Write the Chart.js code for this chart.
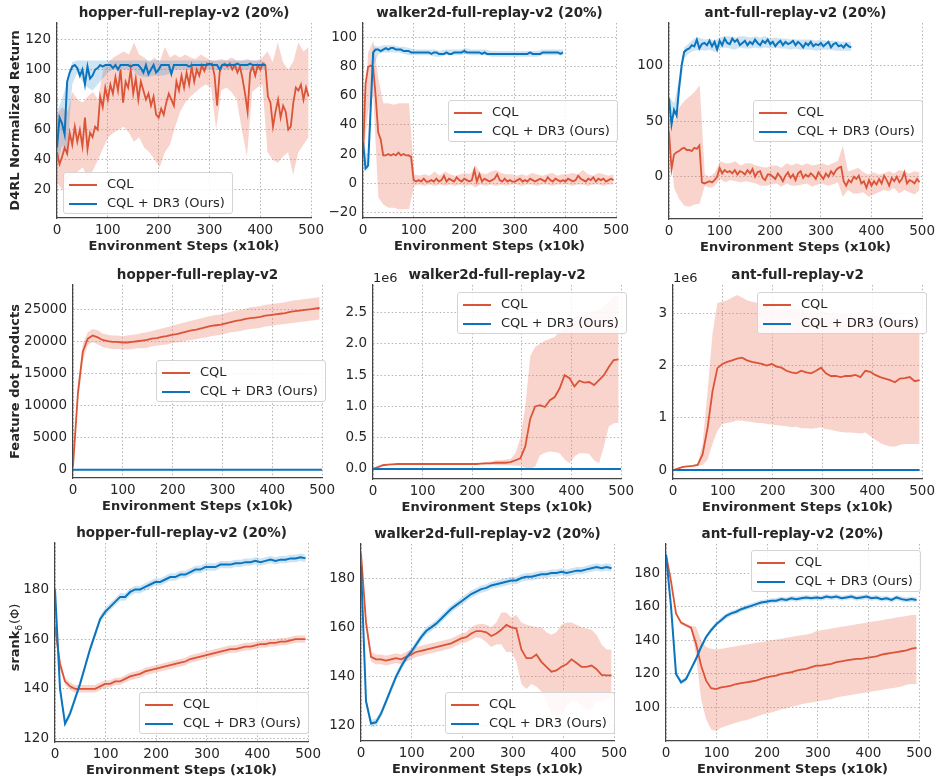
<!DOCTYPE html>
<html>
<head>
<meta charset="utf-8">
<script src="https://cdn.jsdelivr.net/npm/chart.js@4.4.1/dist/chart.umd.min.js"></script>
<style>
  body { margin: 0; background: #fff; width: 937px; height: 776px; overflow: hidden; position: relative; font-family: "DejaVu Sans", sans-serif; }
  canvas { position: absolute; }
  .lg { position: absolute; border: 1px solid #d4d4d4; border-radius: 3px; background: rgba(255,255,255,0.85); padding: 1px 7px 1px 5px; font-size: 13px; color: #262626; }
  .lg div { height: 19px; line-height: 19px; white-space: nowrap; }
  .lg span { display: inline-block; width: 28px; height: 2px; vertical-align: middle; margin-right: 10px; }
</style>
</head>
<body>
<script>
const RED = "#dc5437", BLUE = "#0b74be";
const RED_BAND = "rgba(232,122,98,0.32)", BLUE_BAND = "rgba(30,130,200,0.22)";
const FONT = "'DejaVu Sans', sans-serif";
const TXT = "#262626", GRID = "#b4b4b4", AXIS = "#444";

const seriesNames = ["CQL", "CQL + DR3 (Ours)"];
const xLabel = "Environment Steps (x10k)";
const xTicks = [0, 100, 200, 300, 400, 500];

// ---- row 1: D4RL normalized return (means every 5 steps, bands every ~10)
const p1Cql = [
  45, 37, 42, 48, 44, 58, 50, 62, 52, 60,
  49, 68, 47, 58, 55, 62, 60, 82, 75, 88,
  80, 90, 84, 95, 86, 100, 78, 92, 88, 100,
  84, 94, 80, 92, 86, 80, 84, 76, 82, 70,
  68, 74, 70, 78, 84, 80, 76, 92, 86, 96,
  88, 98, 90, 102, 92, 100, 96, 103, 99, 104,
  103, 104, 96, 76, 98, 103, 104, 102, 104, 100,
  103, 98, 102, 94, 84, 72, 98, 102, 96, 103,
  100, 104, 103, 82, 78, 62, 72, 80, 68, 76,
  72, 60, 62, 78, 88, 86, 90, 80, 88, 82];
const p1CqlLo = [
  25, 20, 28, 30, 32, 35, 28, 33, 40, 48,
  55, 58, 60, 62, 58, 52, 55, 48, 45, 40,
  35, 45, 50, 62, 72, 78, 82, 85, 88, 90,
  88, 60, 86, 88, 85, 80, 60, 42, 85, 88,
  90, 45, 40, 38, 42, 45, 30, 45, 50, 55];
const p1CqlHi = [
  70, 75, 72, 85, 80, 78, 82, 85, 80, 100,
  105, 108, 110, 112, 110, 118, 110, 108, 105, 108,
  105, 115, 108, 110, 108, 110, 108, 107, 110, 108,
  106, 106, 107, 106, 108, 106, 106, 107, 106, 106,
  108, 112, 105, 118, 105, 100, 105, 118, 112, 115];
const p1Dr3 = [
  48, 68, 64, 57, 92, 98, 102, 103, 101, 96,
  100, 90, 102, 94, 96, 100, 101, 103, 102, 103,
  103, 103, 101, 103, 100, 103, 103, 103, 103, 102,
  103, 103, 103, 101, 98, 103, 97, 100, 103, 98,
  100, 103, 103, 103, 103, 97, 103, 103, 103, 103,
  103, 103, 102, 103, 103, 103, 103, 103, 103, 103,
  104, 103, 103, 103, 100, 103, 103, 103, 103, 103,
  103, 104, 103, 103, 103, 103, 104, 103, 103, 103,
  103, 103, 103];
const p1Dr3Lo = [
  35, 50, 45, 90, 98, 92, 88, 86, 90, 94,
  98, 100, 100, 100, 100, 100, 96, 95, 95, 96,
  96, 96, 97, 100, 100, 100, 100, 100, 100, 100,
  100, 100, 100, 100, 100, 100, 100, 100, 100, 100,
  100, 100];
const p1Dr3Hi = [
  72, 80, 92, 105, 106, 106, 106, 106, 106, 106,
  106, 106, 106, 106, 106, 106, 106, 106, 106, 106,
  106, 106, 106, 106, 106, 106, 106, 106, 106, 106,
  106, 106, 106, 106, 106, 106, 106, 106, 106, 106,
  106, 105];

const p2Cql = [
  20, 68, 80, 81, 80, 60, 35, 30, 19, 19,
  20, 19, 20, 19, 21, 19, 20, 19, 19, 18,
  2, 1, 2, 1, 3, 1, 1, 2, 1, 3,
  1, 2, 5, 1, 3, 2, 1, 4, 2, 1,
  3, 2, 1, 2, 9, 1, 6, 1, 3, 2,
  1, 2, 3, 6, 2, 1, 3, 1, 2, 1,
  1, 2, 3, 1, 2, 1, 3, 2, 1, 2,
  3, 2, 1, 4, 2, 1, 3, 2, 1, 2,
  1, 3, 2, 1, 2, 5, 3, 2, 1, 3,
  2, 4, 1, 3, 2, 3, 1, 2, 3, 2];
const p2CqlLo = [
  15, 50, 60, -10, -15, -17, -17, -18, -18, -18,
  -2, -1, -2, -1, -2, -1, -2, -1, -2, -1,
  -2, -1, -3, -1, -2, -1, -2, -1, -2, -1,
  -1, -2, -1, -1, -2, -1, -1, -2, -1, -1,
  -1, -2, -1, -1, -2, -1, -1, -2, -1, -1];
const p2CqlHi = [
  30, 90, 98, 72, 55, 55, 54, 55, 55, 55,
  6, 5, 6, 5, 8, 5, 8, 6, 5, 6,
  7, 6, 12, 7, 6, 8, 9, 7, 6, 6,
  5, 6, 5, 7, 6, 5, 6, 7, 5, 6,
  6, 7, 6, 9, 6, 5, 7, 6, 5, 6];
const p2Dr3 = [
  28, 10, 12, 50, 90, 92, 92, 91, 92, 93,
  92, 93, 93, 92, 92, 92, 91, 91, 91, 90,
  90, 90, 90, 90, 90, 90, 90, 89, 90, 90,
  89, 89, 89, 90, 89, 89, 90, 90, 90, 90,
  91, 90, 90, 90, 90, 90, 90, 89, 90, 89,
  89, 89, 89, 89, 89, 89, 89, 89, 89, 89,
  89, 89, 89, 89, 89, 89, 90, 89, 89, 89,
  89, 90, 90, 90, 90, 90, 90, 90, 89, 90];
const p2Dr3Lo = [
  20, 8, 80, 89, 90, 90, 90, 90, 89, 88,
  88, 88, 88, 88, 87, 87, 88, 88, 88, 88,
  89, 88, 88, 88, 88, 87, 87, 87, 87, 87,
  87, 87, 87, 87, 87, 88, 88, 88, 88, 88];
const p2Dr3Hi = [
  32, 14, 95, 94, 95, 95, 95, 94, 94, 93,
  92, 92, 92, 92, 92, 91, 92, 92, 92, 92,
  93, 92, 92, 92, 92, 91, 91, 91, 91, 91,
  91, 91, 91, 91, 91, 92, 92, 92, 92, 92];

const p3Cql = [
  40, 7, 20, 22, 23, 25, 26, 24, 24, 23,
  26, 25, 28, -5, -6, -5, -4, -5, -3, 0,
  8, 3, 6, 4, 5, 3, 6, 2, 5, 4,
  2, 6, 3, 7, 0, 4, 5, -1, -3, 2,
  2, 0, -2, 3, 0, -4, 1, 4, -1, 2,
  -3, 3, 5, -1, 2, 0, 3, 1, -2, 4,
  1, -2, 3, 0, 5, 2, 6, 8, 9, -4,
  -8, -3, -5, 0, -2, 1, -6, -4, -10, -3,
  -8, -4, -7, -2, -6, 1, -3, -8, -1, -4,
  0, -5, -2, 4, -6, -3, -4, -6, -2, -5];
const p3CqlLo = [
  35, -10, -20, -26, -27, -25, -24, -8, -10, -8,
  -2, -5, -3, -4, -5, -4, -5, -6, -8, -8,
  -7, -6, -9, -6, -8, -8, -7, -6, -9, -7,
  -6, -8, -7, -5, -18, -12, -15, -15, -14, -18,
  -16, -14, -12, -13, -10, -15, -12, -14, -16, -12];
const p3CqlHi = [
  45, 50, 62, 68, 72, 76, 82, 2, 0, 4,
  14, 12, 12, 14, 10, 12, 12, 10, 9, 8,
  10, 10, 8, 12, 10, 12, 10, 12, 10, 11,
  12, 10, 12, 14, 28, 5, 6, 8, 4, 2,
  4, 2, 3, 5, 3, 6, 5, 3, 5, 4];
const p3Dr3 = [
  70, 47, 60, 55, 80, 100, 112, 114, 115, 118,
  117, 123, 115, 119, 120, 118, 122, 117, 121, 114,
  122, 118, 124, 120, 119, 124, 121, 123, 118, 120,
  122, 118, 121, 119, 123, 120, 118, 122, 120, 123,
  119, 121, 117, 120, 122, 118, 121, 119, 120, 122,
  118, 121, 119, 116, 120, 118, 121, 117, 119, 118,
  120, 117, 119, 121, 116, 119, 120, 117, 118, 116,
  119, 117, 116];
const p3Dr3Lo = [
  62, 52, 72, 106, 111, 113, 114, 113, 114, 112,
  115, 116, 115, 114, 116, 115, 115, 116, 115, 116,
  115, 116, 115, 115, 114, 115, 114, 114, 114, 113,
  114, 114, 114, 113, 113, 113, 113];
const p3Dr3Hi = [
  72, 66, 88, 116, 120, 124, 125, 123, 124, 122,
  125, 126, 126, 125, 126, 126, 125, 126, 125, 126,
  124, 125, 124, 124, 123, 123, 123, 123, 123, 122,
  123, 122, 122, 122, 121, 121, 121];

// ---- row 2: feature dot products (values every ~10 steps)
const p4Cql = [
  500, 12000, 18500, 20500, 21000, 20700, 20300, 20100, 20000, 20000,
  19900, 19900, 20000, 20100, 20200, 20300, 20500, 20600, 20800, 20900,
  21100, 21200, 21400, 21600, 21800, 21900, 22100, 22300, 22500, 22600,
  22700, 22900, 23100, 23300, 23400, 23600, 23700, 23800, 23900, 24100,
  24200, 24300, 24400, 24500, 24700, 24800, 24900, 25000, 25100, 25200,
  25300];
const p4CqlLo = [
  300, 10500, 17000, 19500, 20000, 19600, 19200, 19000, 18900, 18900,
  18800, 18800, 18900, 19000, 19000, 19100, 19300, 19400, 19500, 19600,
  19800, 19900, 20000, 20200, 20300, 20400, 20600, 20700, 20900, 21000,
  21100, 21300, 21500, 21600, 21700, 21900, 22000, 22100, 22200, 22400,
  22500, 22600, 22700, 22800, 22900, 23000, 23100, 23200, 23300, 23400,
  23500];
const p4CqlHi = [
  700, 13500, 19800, 21500, 22000, 21800, 21300, 21100, 21000, 21000,
  20900, 21000, 21100, 21200, 21400, 21500, 21700, 21900, 22100, 22300,
  22500, 22700, 22900, 23100, 23300, 23500, 23700, 23900, 24100, 24200,
  24300, 24500, 24700, 24900, 25000, 25200, 25400, 25500, 25600, 25800,
  25900, 26000, 26100, 26200, 26400, 26500, 26600, 26700, 26800, 26900,
  27000];

// walker2d / ant in units of 1e6
const p5Cql = [
  0.0, 0.03, 0.06, 0.07, 0.075, 0.08, 0.08, 0.08, 0.08, 0.08,
  0.08, 0.08, 0.08, 0.08, 0.08, 0.08, 0.08, 0.08, 0.08, 0.08,
  0.08, 0.08, 0.085, 0.09, 0.09, 0.1, 0.1, 0.1, 0.11, 0.14,
  0.17, 0.36, 0.8, 1.0, 1.02, 0.99, 1.1, 1.15, 1.29, 1.5,
  1.45, 1.32, 1.41, 1.38, 1.39, 1.34, 1.42, 1.5, 1.63, 1.74,
  1.75];
const p5CqlLo = [
  0.0, 0.02, 0.05, 0.06, 0.07, 0.07, 0.07, 0.07, 0.07, 0.07,
  0.07, 0.07, 0.07, 0.07, 0.07, 0.07, 0.07, 0.07, 0.07, 0.07,
  0.07, 0.07, 0.07, 0.07, 0.07, 0.06, 0.06, 0.06, 0.06, 0.05,
  0.05, 0.02, 0.0, 0.04, 0.22, 0.26, 0.28, 0.27, 0.25, 0.15,
  0.09, 0.2, 0.25, 0.25, 0.24, 0.14, 0.09, 0.36, 0.68, 0.73,
  0.74];
const p5CqlHi = [
  0.0, 0.04, 0.07, 0.08, 0.085, 0.09, 0.09, 0.09, 0.09, 0.09,
  0.09, 0.09, 0.09, 0.09, 0.09, 0.09, 0.09, 0.09, 0.09, 0.09,
  0.09, 0.09, 0.1, 0.11, 0.12, 0.14, 0.14, 0.15, 0.16, 0.25,
  0.5, 1.0, 1.8, 1.95, 2.0, 2.05, 2.08, 2.11, 2.2, 2.3,
  2.38, 2.42, 2.45, 2.48, 2.5, 2.52, 2.54, 2.6, 2.68, 2.75,
  2.77];
const p6Cql = [
  0.0, 0.03, 0.06, 0.07, 0.08, 0.1, 0.3, 0.8, 1.5, 1.95,
  2.03, 2.07, 2.1, 2.13, 2.15, 2.1, 2.07, 2.05, 2.03, 2.0,
  2.03, 1.98, 1.96, 1.9, 1.87, 1.85, 1.9, 1.87, 1.85, 1.9,
  1.96, 1.85, 1.8, 1.8, 1.78, 1.8, 1.8, 1.82, 1.78, 1.9,
  1.88, 1.82, 1.78, 1.75, 1.72, 1.68, 1.75, 1.76, 1.78, 1.7,
  1.72];
const p6CqlLo = [
  0.0, 0.02, 0.05, 0.06, 0.07, 0.08, 0.1, 0.2, 0.5, 0.75,
  0.88, 0.9, 0.92, 0.95, 0.95, 0.93, 0.92, 0.9, 0.9, 0.88,
  0.87, 0.86, 0.85, 0.84, 0.82, 0.83, 0.8, 0.8, 0.79, 0.8,
  0.82, 0.78, 0.77, 0.75, 0.73, 0.72, 0.72, 0.71, 0.7, 0.72,
  0.65, 0.58, 0.52, 0.48, 0.45, 0.45, 0.48, 0.5, 0.5, 0.5,
  0.5];
const p6CqlHi = [
  0.0, 0.04, 0.07, 0.08, 0.09, 0.12, 0.5, 1.5, 2.6, 3.2,
  3.22, 3.25, 3.3, 3.35, 3.3, 3.25, 3.22, 3.2, 3.18, 3.17,
  3.15, 3.12, 3.1, 3.1, 3.08, 3.08, 3.07, 3.05, 3.05, 3.05,
  3.03, 3.02, 3.0, 3.0, 2.98, 2.98, 2.97, 2.95, 2.95, 2.95,
  2.95, 2.95, 2.93, 2.92, 2.9, 2.9, 2.9, 2.9, 2.9, 2.88,
  2.9];
const dotDr3 = [0, 0, 0, 0, 0, 0, 0, 0, 0, 0, 0];

// ---- row 3: srank (values every ~10 steps)
const p7Cql = [
  165, 150, 143, 141, 140, 140, 140, 140, 140, 141,
  142, 142, 143, 143, 144, 145, 145.5, 146, 147, 147.5,
  148, 148.5, 149, 149.5, 150, 150.5, 151, 152, 152.5, 153,
  153.5, 154, 154.5, 155, 155.5, 156, 156, 156.5, 157, 157,
  157.5, 158, 158, 158.5, 158.5, 159, 159, 159.5, 160, 160,
  160];
const p7CqlLo = [
  162, 148, 141.5, 139.5, 138.5, 138.5, 138.5, 138.5, 138.5, 139.5,
  140.5, 140.5, 141.5, 141.5, 142.5, 143.5, 144, 144.5, 145.5, 146,
  146.5, 147, 147.5, 148, 148.5, 149, 149.5, 150.5, 151, 151.5,
  152, 152.5, 153, 153.5, 154, 154.5, 154.5, 155, 155.5, 155.5,
  156, 156.5, 156.5, 157, 157, 157.5, 157.5, 158, 158.5, 158.5,
  158.5];
const p7CqlHi = [
  168, 152, 144.5, 142.5, 141.5, 141.5, 141.5, 141.5, 141.5, 142.5,
  143.5, 143.5, 144.5, 144.5, 145.5, 146.5, 147, 147.5, 148.5, 149,
  149.5, 150, 150.5, 151, 151.5, 152, 152.5, 153.5, 154, 154.5,
  155, 155.5, 156, 156.5, 157, 157.5, 157.5, 158, 158.5, 158.5,
  159, 159.5, 159.5, 160, 160, 160.5, 160.5, 161, 161.5, 161.5,
  161.5];
const p7Dr3 = [
  180, 140, 126, 130, 136, 142, 149, 156, 162, 168,
  171, 173, 175, 177, 177, 179, 180, 180, 181, 182,
  183, 183, 184, 185, 185, 186, 186, 187, 188, 188,
  189, 189, 189, 190, 190, 190, 190.5, 190.5, 191, 191,
  191.5, 191, 191.5, 192, 191.5, 192, 192, 192.5, 192.5, 193,
  192.5];
const p7Dr3Lo = [
  179, 138, 124.5, 128.5, 134.5, 140.5, 147.5, 154.5, 160.5, 166.5,
  169.5, 171.5, 173.5, 175.5, 175.5, 177.5, 178.5, 178.5, 179.5, 180.5,
  181.5, 181.5, 182.5, 183.5, 183.5, 184.5, 184.5, 185.5, 186.5, 186.5,
  187.5, 187.5, 187.5, 188.5, 188.5, 188.5, 189, 189, 189.5, 189.5,
  190, 189.5, 190, 190.5, 190, 190.5, 190.5, 191, 191, 191.5,
  191];
const p7Dr3Hi = [
  181, 142, 127.5, 131.5, 137.5, 143.5, 150.5, 157.5, 163.5, 169.5,
  172.5, 174.5, 176.5, 178.5, 178.5, 180.5, 181.5, 181.5, 182.5, 183.5,
  184.5, 184.5, 185.5, 186.5, 186.5, 187.5, 187.5, 188.5, 189.5, 189.5,
  190.5, 190.5, 190.5, 191.5, 191.5, 191.5, 192, 192, 192.5, 192.5,
  193, 192.5, 193, 193.5, 193, 193.5, 193.5, 194, 194, 194.5,
  194];

const p8Cql = [
  190, 162, 148, 147, 147, 146.5, 147, 147.5, 147, 148,
  149, 150, 150.5, 151, 151.5, 152, 152.5, 153, 153.5, 154.5,
  155.5, 156, 157.5, 158.5, 158.5, 158, 156.5, 157.5, 159, 161,
  160, 159.5, 151, 147.5, 147.5, 149, 146, 144, 142, 142.5,
  144, 145, 147, 145.5, 144, 144, 144.5, 143, 140.7, 140.5,
  140.5];
const p8CqlLo = [
  188, 160, 146, 145, 145, 144.5, 145, 145.5, 145, 146,
  147, 148, 148.5, 149, 149.5, 150, 150.5, 151, 151.5, 152.5,
  153.5, 154, 155, 156, 155.5, 154, 152, 153, 153, 150,
  150, 146, 137, 135, 137, 136, 134, 130, 125, 124,
  125, 128, 130, 130, 128, 126, 127, 130, 130, 131,
  131];
const p8CqlHi = [
  192, 164, 150, 149, 149, 148.5, 149, 149.5, 149, 150,
  151, 152, 152.5, 153, 153.5, 154, 154.5, 155, 155.5, 156.5,
  157.5, 158, 160, 161, 161.5, 161, 160, 162, 166, 166,
  164, 165, 162, 161, 160.5, 160, 160, 158, 157, 158,
  161, 162, 162, 161, 160, 159.5, 159, 157, 153, 151,
  151];
const p8Dr3 = [
  185, 130, 121, 121.5, 125, 130, 135, 140, 144, 147.5,
  150, 153, 156, 158.5, 160, 161.5, 163.5, 165.5, 167.5, 169,
  170.5, 172, 173.5, 174.5, 175.5, 176, 177, 177.5, 178, 178.5,
  179, 179, 180, 180.5, 180.5, 181, 181.5, 181.5, 182, 182,
  182.5, 182, 182.5, 183, 183, 183.5, 184, 184.5, 184, 184.5,
  184];
const p8Dr3Lo = [
  184, 128, 119.5, 120, 123.5, 128.5, 133.5, 138.5, 142.5, 146,
  148.5, 151.5, 154.5, 157, 158.5, 160, 162, 164, 166, 167.5,
  169, 170.5, 172, 173, 174, 174.5, 175.5, 176, 176.5, 177,
  177.5, 177.5, 178.5, 179, 179, 179.5, 180, 180, 180.5, 180.5,
  181, 180.5, 181, 181.5, 181.5, 182, 182.5, 183, 182.5, 183,
  182.5];
const p8Dr3Hi = [
  186, 132, 122.5, 123, 126.5, 131.5, 136.5, 141.5, 145.5, 149,
  151.5, 154.5, 157.5, 160, 161.5, 163, 165, 167, 169, 170.5,
  172, 173.5, 175, 176, 177, 177.5, 178.5, 179, 179.5, 180,
  180.5, 180.5, 181.5, 182, 182, 182.5, 183, 183, 183.5, 183.5,
  184, 183.5, 184, 184.5, 184.5, 185, 185.5, 186, 185.5, 186,
  185.5];

const p9Cql = [
  191, 175, 156, 150.5, 149, 147.5, 138, 125, 116, 111.5,
  111, 112, 112.5, 113, 114, 114.5, 115, 115.5, 116, 117,
  118, 118.5, 119, 120, 120.5, 121, 122, 122.5, 123, 124,
  125, 125, 125.5, 126, 127, 127.5, 128, 128.5, 129, 129,
  129.5, 130, 130.5, 131.5, 132, 132.5, 133, 133.5, 134, 135,
  135.5];
const p9CqlLo = [
  190, 174, 155, 149.5, 148, 146.5, 131, 105, 93, 87,
  86, 88, 89, 90, 91, 92, 92.5, 93.5, 94.5, 95.5,
  96.5, 97, 98, 99, 99.5, 100.5, 101, 102, 102.5, 103,
  103.5, 104, 104.5, 105, 106, 106.5, 107, 107.5, 108, 108.5,
  109, 109.5, 110, 110.5, 111, 111.5, 112, 112.5, 113.5, 114,
  114];
const p9CqlHi = [
  192, 176, 157, 151.5, 150, 148.5, 148, 140, 136, 135,
  134.5, 135, 135.5, 136, 136.5, 137, 137.5, 138, 138.5, 139,
  139.5, 140, 140.5, 141, 141.5, 142, 142.5, 143, 143.5, 144,
  145.5, 146, 146.5, 147, 147.5, 148, 148.5, 149, 149.5, 150,
  150.5, 151, 151.5, 152, 152.5, 153, 153.5, 154, 154.5, 155,
  155];
const p9Dr3 = [
  191, 160, 120, 115, 117, 123, 129, 136, 142, 146,
  149.5, 152, 154.5, 156, 157, 158.5, 159.5, 160.5, 161.5, 162.5,
  163, 163.5, 163.5, 164.5, 164, 165, 164.5, 165, 165.5, 165,
  165.5, 165, 166, 165.5, 166, 165, 165.5, 166, 165, 165.5,
  166, 165, 165.5, 164.5, 165, 164, 165.5, 164.5, 164, 164.5,
  164];
const p9Dr3Lo = [
  190, 158, 118.5, 113.5, 115.5, 121.5, 127.5, 134.5, 140.5, 144.5,
  148, 150.5, 153, 154.5, 155.5, 157, 158, 159, 160, 161,
  161.5, 162, 162, 163, 162.5, 163.5, 163, 163.5, 164, 163.5,
  164, 163.5, 164.5, 164, 164.5, 163.5, 164, 164.5, 163.5, 164,
  164.5, 163.5, 164, 163, 163.5, 162.5, 164, 163, 162.5, 163,
  162.5];
const p9Dr3Hi = [
  192, 162, 121.5, 116.5, 118.5, 124.5, 130.5, 137.5, 143.5, 147.5,
  151, 153.5, 156, 157.5, 158.5, 160, 161, 162, 163, 164,
  164.5, 165, 165, 166, 165.5, 166.5, 166, 166.5, 167, 166.5,
  167, 166.5, 167.5, 167, 167.5, 166.5, 167, 167.5, 166.5, 167,
  167.5, 166.5, 167, 166, 166.5, 165.5, 167, 166, 165.5, 166,
  165.5];

// spread a logged series evenly over [0, end] env steps
const pts = (vals, end) => vals.map((v, i) => ({ x: end * i / (vals.length - 1), y: v }));

const panels = [
  { title: "hopper-full-replay-v2 (20%)", yTitle: "D4RL Normalized Return", area: [57, 312, 23, 218], yw: 57,
    yMin: 1.2, yMax: 131, yTicks: [20, 40, 60, 80, 100, 120],
    cql: [p1Cql, p1CqlLo, p1CqlHi, 495], dr3: [p1Dr3, p1Dr3Lo, p1Dr3Hi, 410], legend: [63, 172] },
  { title: "walker2d-full-replay-v2 (20%)", area: [363, 617, 23, 218], yw: 50,
    yMin: -24.1, yMax: 110.3, yTicks: [-20, 0, 20, 40, 60, 80, 100],
    cql: [p2Cql, p2CqlLo, p2CqlHi, 495], dr3: [p2Dr3, p2Dr3Lo, p2Dr3Hi, 395], legend: [448, 100] },
  { title: "ant-full-replay-v2 (20%)", area: [669, 923, 23, 219], yw: 50,
    yMin: -37.9, yMax: 137.9, yTicks: [0, 50, 100],
    cql: [p3Cql, p3CqlLo, p3CqlHi, 495], dr3: [p3Dr3, p3Dr3Lo, p3Dr3Hi, 360], legend: [753, 100] },
  { title: "hopper-full-replay-v2", yTitle: "Feature dot products", area: [73, 323, 285, 478], yw: 73,
    yMin: -1300, yMax: 28900, yTicks: [0, 5000, 10000, 15000, 20000, 25000],
    cql: [p4Cql, p4CqlLo, p4CqlHi, 495], dr3: [dotDr3, null, null, 500], legend: [156, 360] },
  { title: "walker2d-full-replay-v2", area: [373, 622, 285, 479], yw: 50, offsetText: "1e6", dec: 1,
    yMin: -0.16, yMax: 2.94, yTicks: [0, 0.5, 1, 1.5, 2, 2.5],
    cql: [p5Cql, p5CqlLo, p5CqlHi, 495], dr3: [dotDr3, null, null, 500], legend: [457, 292] },
  { title: "ant-full-replay-v2", area: [673, 923, 285, 479], yw: 50, offsetText: "1e6",
    yMin: -0.17, yMax: 3.54, yTicks: [0, 1, 2, 3],
    cql: [p6Cql, p6CqlLo, p6CqlHi, 495], dr3: [dotDr3, null, null, 495], legend: [757, 292] },
  { title: "hopper-full-replay-v2 (20%)", srank: true, area: [55, 309, 543, 742], yw: 55,
    yMin: 118.6, yMax: 198.7, yTicks: [120, 140, 160, 180],
    cql: [p7Cql, p7CqlLo, p7CqlHi, 495], dr3: [p7Dr3, p7Dr3Lo, p7Dr3Hi, 495], legend: [139, 692] },
  { title: "walker2d-full-replay-v2 (20%)", area: [361, 615, 544, 741], yw: 50,
    yMin: 113.9, yMax: 193.8, yTicks: [120, 140, 160, 180],
    cql: [p8Cql, p8CqlLo, p8CqlHi, 495], dr3: [p8Dr3, p8Dr3Lo, p8Dr3Hi, 495], legend: [445, 692] },
  { title: "ant-full-replay-v2 (20%)", area: [666, 920, 544, 741], yw: 50,
    yMin: 80.1, yMax: 197.3, yTicks: [100, 120, 140, 160, 180],
    cql: [p9Cql, p9CqlLo, p9CqlHi, 495], dr3: [p9Dr3, p9Dr3Lo, p9Dr3Hi, 495], legend: [751, 550] },
];

const TITLE_H = 24, XAXIS_H = 36, PAD_R = 16;

function fmt(v, dec) {
  const s = dec ? Math.abs(v).toFixed(dec) : String(Math.abs(v));
  return (v < 0 ? "\u2212" : "") + s;
}

function lineDs(vals, end, color, width, order) {
  return { data: pts(vals, end), borderColor: color, borderWidth: width, pointRadius: 0, fill: false, order };
}
function bandDs(lo, hi, end, color, order) {
  return [
    { data: pts(lo, end), borderWidth: 0, pointRadius: 0, fill: false, order },
    { data: pts(hi, end), borderWidth: 0, pointRadius: 0, backgroundColor: color, fill: "-1", order }
  ];
}

const extras = {
  id: "extras",
  afterDraw(c, args, opts) {
    const ctx = c.ctx, a = c.chartArea;
    ctx.save();
    ctx.fillStyle = TXT;
    if (opts.offsetText) {
      ctx.font = "13px " + FONT;
      ctx.textAlign = "left"; ctx.textBaseline = "middle";
      ctx.fillText(opts.offsetText, a.left, a.top - 6);
    }
    if (opts.srank) {
      ctx.translate(15.5, (a.top + a.bottom) / 2 - 5);
      ctx.rotate(-Math.PI / 2);
      ctx.textBaseline = "middle"; ctx.textAlign = "left";
      const b = "bold 13px " + FONT, sub = "9px " + FONT, reg = "13px " + FONT;
      ctx.font = b; const w1 = ctx.measureText("srank").width;
      ctx.font = sub; const w2 = ctx.measureText("\u03b4").width;
      ctx.font = reg; const w3 = ctx.measureText("(\u03a6)").width;
      let x = -(w1 + w2 + w3 + 1) / 2;
      ctx.font = b; ctx.fillText("srank", x, 0); x += w1;
      ctx.font = sub; ctx.fillText("\u03b4", x, 4); x += w2 + 1;
      ctx.font = reg; ctx.fillText("(\u03a6)", x, 0);
    }
    ctx.restore();
  }
};

panels.forEach(p => {
  const [l, r, t, b] = p.area;
  const w = p.yw + (r - l) + PAD_R, h = TITLE_H + (b - t) + XAXIS_H;
  const cv = document.createElement("canvas");
  cv.width = w; cv.height = h;
  cv.style.left = (l - p.yw) + "px"; cv.style.top = (t - TITLE_H) + "px";
  cv.style.width = w + "px"; cv.style.height = h + "px";
  document.body.appendChild(cv);

  const [cm, clo, chi, cend] = p.cql;
  const [dm, dlo, dhi, dend] = p.dr3;
  const datasets = [lineDs(dm, dend, BLUE, 2, 0), lineDs(cm, cend, RED, 1.8, 1)];
  if (dlo) datasets.push(...bandDs(dlo, dhi, dend, BLUE_BAND, 2));
  datasets.push(...bandDs(clo, chi, cend, RED_BAND, 3));

  const tickFont = { family: FONT, size: 13.5 };
  const grid = { color: GRID, lineWidth: 1, drawTicks: false };
  const border = { display: true, color: AXIS, width: 1.2, dash: [1.5, 2.2] };

  new Chart(cv, {
    type: "line",
    data: { datasets },
    plugins: [extras],
    options: {
      responsive: false, animation: false, devicePixelRatio: 1,
      layout: { padding: { left: 0, right: PAD_R, top: 0, bottom: 0 } },
      plugins: {
        legend: { display: false }, tooltip: { enabled: false },
        title: { display: true, text: p.title, color: TXT, fullSize: false,
                 font: { family: FONT, size: 13.5, weight: "bold", lineHeight: "16px" },
                 padding: { top: 6, bottom: 2 } },
        extras: { offsetText: p.offsetText, srank: p.srank }
      },
      scales: {
        x: { type: "linear", min: 0, max: 500,
             afterBuildTicks: s => { s.ticks = xTicks.map(v => ({ value: v })); },
             afterFit: s => { s.height = XAXIS_H; },
             grid, border,
             ticks: { color: TXT, font: tickFont, padding: 4, maxRotation: 0, autoSkip: false, callback: v => fmt(v) },
             title: { display: true, text: xLabel, color: TXT, font: { family: FONT, size: 13, weight: "bold" }, padding: { top: 0, bottom: 0 } } },
        y: { type: "linear", min: p.yMin, max: p.yMax,
             afterBuildTicks: s => { s.ticks = p.yTicks.map(v => ({ value: v })); },
             afterFit: s => { s.width = p.yw; },
             grid, border,
             ticks: { color: TXT, font: tickFont, padding: 6, autoSkip: false, callback: v => fmt(v, p.dec) },
             title: { display: !!p.yTitle, text: p.yTitle || "", color: TXT, font: { family: FONT, size: 13, weight: "bold" }, padding: { top: 8, bottom: 0 } } }
      }
    }
  });

  const lg = document.createElement("div");
  lg.className = "lg";
  lg.style.left = p.legend[0] + "px"; lg.style.top = p.legend[1] + "px";
  lg.innerHTML = seriesNames.map((n, i) =>
    `<div><span style="background:${i ? BLUE : RED}"></span>${n}</div>`).join("");
  document.body.appendChild(lg);
});
</script>
</body>
</html>
